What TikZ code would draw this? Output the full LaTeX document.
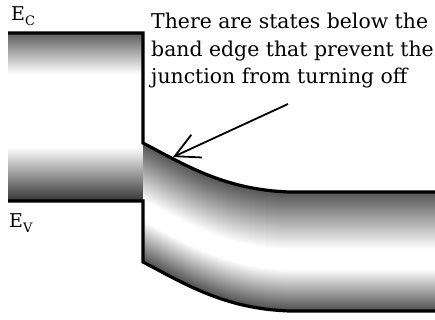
\documentclass[tikz,border=0pt]{standalone}
\usepackage{fontspec}
\setmainfont{DejaVu Serif}
\usetikzlibrary{arrows.meta}
\tikzset{
  edgeline/.style={line width=3.2pt, line join=miter},
  lbl/.style={anchor=base west, inner sep=0pt, font=\fontsize{20.4}{24}\selectfont},
  elbl/.style={anchor=base west, inner sep=0pt, font=\fontsize{19}{22}\selectfont},
  pointer/.style={line width=1.8pt, -{Straight Barb[length=24pt,width=25pt,line width=1.8pt]}}
}
\begin{document}
\begin{tikzpicture}[x=1pt,y=-1pt]
\useasboundingbox (0,0) rectangle (435,320);
% left block gradient
\foreach \s in {0,...,168}{
  \pgfmathsetmacro\d{\s<42 ? 65*(1-\s/42) : (\s<115 ? 0 : 78*(\s-115)/53)}
  \fill[black!\d] (8,33+\s-0.6) rectangle (143,33+\s+0.6);
}
% band gradient
\begin{scope}
\clip (143,143) .. controls (185,165) and (225,190) .. (290,192) -- (435,192)
  -- (435,311) -- (290,311) .. controls (225,309) and (185,284) .. (143,262) -- cycle;
\foreach \t in {-2,...,121}{
  \pgfmathsetmacro\d{\t<58 ? 68*(1-\t/58) : (\t<78 ? 0 : 68*(\t-78)/41)}
  \pgfmathsetmacro\d{max(0,min(68,\d))}
  \draw[line width=1.7pt, draw=black!\d] (143,143+\t) .. controls (185,165+\t) and (225,190+\t) .. (290,192+\t) -- (440,192+\t);
}
\end{scope}
% edges
\draw[edgeline] (8,33) -- (143,33) -- (143,143) .. controls (185,165) and (225,190) .. (290,192) -- (435,192);
\draw[edgeline] (8,201) -- (143,201) -- (143,262) .. controls (185,284) and (225,309) .. (290,311) -- (435,311);
% labels
\node[elbl] (ec) at (11,21) {E\raisebox{-5pt}{\fontsize{13}{13}\selectfont C}};
\node[elbl] (ev) at (9,227) {E\raisebox{-5pt}{\fontsize{13}{13}\selectfont V}};
\node[lbl] (t1) at (151,29) {There are states below the};
\node[lbl] (t2) at (151,56.5) {band edge that prevent the};
\node[lbl] (t3) at (151,84) {junction from turning off};
% arrow
\coordinate (tail) at (288,104);
\coordinate (tip) at (173,157);
\draw[pointer] (tail) -- (tip);
\end{tikzpicture}
\end{document}
